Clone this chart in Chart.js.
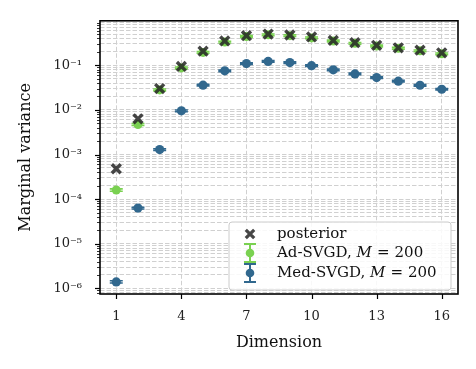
<!DOCTYPE html>
<html>
<head>
<meta charset="utf-8">
<script src="https://cdn.jsdelivr.net/npm/chart.js@4.4.1/dist/chart.umd.min.js"></script>
<style>
  body { margin: 0; background: #fff; }
  #wrap { width: 476px; height: 369px; }
</style>
</head>
<body>
<div id="wrap"><canvas id="myChart"></canvas></div>
<script>
/* global Chart */

// data
const dims = [1, 2, 3, 4, 5, 6, 7, 8, 9, 10, 11, 12, 13, 14, 15, 16];
const posterior = [4.8e-4, 6.3e-3, 0.030, 0.094, 0.207, 0.35, 0.46, 0.50, 0.476, 0.43, 0.36, 0.32, 0.28, 0.245, 0.218, 0.19];
const adSvgd = [1.6e-4, 4.7e-3, 0.028, 0.087, 0.194, 0.33, 0.44, 0.48, 0.46, 0.41, 0.35, 0.31, 0.27, 0.24, 0.21, 0.18];
const adErr = [1.0e-5, 2.5e-4, 1.4e-3, 4e-3, 9e-3, 1.5e-2, 2e-2, 2.2e-2, 2.1e-2, 1.9e-2, 1.6e-2, 1.4e-2, 1.2e-2, 1.1e-2, 1e-2, 8e-3];
const medSvgd = [1.4e-6, 6.3e-5, 1.29e-3, 9.5e-3, 0.0357, 0.075, 0.109, 0.122, 0.115, 0.098, 0.079, 0.064, 0.053, 0.044, 0.0356, 0.029];
const medErr = [8e-8, 3e-6, 6e-5, 4e-4, 1.5e-3, 3e-3, 4.5e-3, 5e-3, 4.8e-3, 4e-3, 3.3e-3, 2.7e-3, 2.2e-3, 1.8e-3, 1.5e-3, 1.2e-3];

const xTickValues = [1, 4, 7, 10, 13, 16];
const yTickValues = [1e-6, 1e-5, 1e-4, 1e-3, 1e-2, 1e-1];
const yTickLabels = ['10\u207B\u2076', '10\u207B\u2075', '10\u207B\u2074', '10\u207B\u00B3', '10\u207B\u00B2', '10\u207B\u00B9'];

const GREEN = '#7ad151';
const BLUE = '#31688e';
const DARK = 'rgba(38,38,38,0.85)';
const FONT = '"DejaVu Serif", serif';

function pts(vals) {
  return dims.map((d, i) => ({ x: d, y: vals[i] }));
}

// frame + tick marks (major/minor lengths like matplotlib)
const framePlugin = {
  id: 'frame',
  afterDraw(chart) {
    const { ctx, chartArea: a, scales: { x, y } } = chart;
    ctx.save();
    ctx.strokeStyle = '#000';
    y.ticks.forEach(t => {
      const py = Math.round(y.getPixelForValue(t.value)) + 0.5;
      const len = t.major ? 5 : 3;
      ctx.lineWidth = t.major ? 1.2 : 0.8;
      ctx.beginPath();
      ctx.moveTo(a.left - len, py);
      ctx.lineTo(a.left, py);
      ctx.stroke();
    });
    ctx.lineWidth = 1.2;
    x.ticks.forEach(t => {
      const px = Math.round(x.getPixelForValue(t.value)) + 0.5;
      ctx.beginPath();
      ctx.moveTo(px, a.bottom);
      ctx.lineTo(px, a.bottom + 5);
      ctx.stroke();
    });
    ctx.lineWidth = 1.6;
    ctx.strokeRect(a.left, a.top, a.right - a.left, a.bottom - a.top);
    ctx.restore();
  }
};

// error bars with caps, drawn under the markers
const errorPlugin = {
  id: 'errbars',
  beforeDatasetsDraw(chart) {
    const { ctx, scales: { x, y } } = chart;
    ctx.save();
    chart.data.datasets.forEach(ds => {
      if (!ds.errors) return;
      ctx.strokeStyle = ds.backgroundColor;
      ctx.lineWidth = 1.6;
      ds.data.forEach((p, j) => {
        const px = x.getPixelForValue(p.x);
        const lo = y.getPixelForValue(p.y - ds.errors[j]);
        const hi = y.getPixelForValue(p.y + ds.errors[j]);
        ctx.beginPath();
        ctx.moveTo(px, lo); ctx.lineTo(px, hi);
        ctx.moveTo(px - 6.5, lo); ctx.lineTo(px + 6.5, lo);
        ctx.moveTo(px - 6.5, hi); ctx.lineTo(px + 6.5, hi);
        ctx.stroke();
      });
    });
    ctx.restore();
  }
};

// legend inside the axes, lower right
const legendPlugin = {
  id: 'boxLegend',
  afterDraw(chart) {
    const { ctx, chartArea: a } = chart;
    const w = 222, h = 68;
    const bx = a.right - 7 - w, by = a.bottom - 4 - h;
    ctx.save();
    ctx.beginPath();
    ctx.roundRect(bx, by, w, h, 3);
    ctx.fillStyle = 'rgba(255,255,255,0.85)';
    ctx.fill();
    ctx.strokeStyle = '#cccccc';
    ctx.lineWidth = 1;
    ctx.stroke();

    const ix = bx + 21, tx = bx + 48;
    const rows = [by + 12, by + 31, by + 51];

    // posterior: X marker
    ctx.strokeStyle = DARK;
    ctx.lineWidth = 3.2;
    ctx.beginPath();
    ctx.moveTo(ix - 4.2, rows[0] - 4.2); ctx.lineTo(ix + 4.2, rows[0] + 4.2);
    ctx.moveTo(ix + 4.2, rows[0] - 4.2); ctx.lineTo(ix - 4.2, rows[0] + 4.2);
    ctx.stroke();

    // errorbar icons
    [[GREEN, rows[1]], [BLUE, rows[2]]].forEach(([c, cy]) => {
      ctx.strokeStyle = c;
      ctx.fillStyle = c;
      ctx.lineWidth = 2;
      ctx.beginPath();
      ctx.moveTo(ix, cy - 9); ctx.lineTo(ix, cy + 9);
      ctx.moveTo(ix - 6, cy - 9); ctx.lineTo(ix + 6, cy - 9);
      ctx.moveTo(ix - 6, cy + 9); ctx.lineTo(ix + 6, cy + 9);
      ctx.stroke();
      ctx.beginPath();
      ctx.arc(ix, cy, 4.3, 0, Math.PI * 2);
      ctx.fill();
    });

    const sz = 15;
    ctx.fillStyle = '#111';
    ctx.textBaseline = 'middle';
    ctx.font = sz + 'px ' + FONT;
    ctx.fillText('posterior', tx, rows[0]);
    [['Ad-SVGD, ', rows[1]], ['Med-SVGD, ', rows[2]]].forEach(([s, cy]) => {
      ctx.font = sz + 'px ' + FONT;
      ctx.fillText(s, tx, cy);
      let cx = tx + ctx.measureText(s).width;
      ctx.font = 'italic ' + sz + 'px ' + FONT;
      ctx.fillText('M', cx, cy);
      cx += ctx.measureText('M').width + 5;
      ctx.font = sz + 'px ' + FONT;
      ctx.fillText('=', cx, cy);
      cx += ctx.measureText('=').width + 5;
      ctx.fillText('200', cx, cy);
    });
    ctx.restore();
  }
};

const gridColor = '#d0d0d0';

const chart = new Chart(document.getElementById('myChart').getContext('2d'), {
  type: 'scatter',
  data: {
    datasets: [
      {
        label: 'posterior',
        data: pts(posterior),
        pointStyle: 'crossRot',
        pointRadius: 6.3,
        pointBorderWidth: 3.4,
        borderColor: DARK,
        backgroundColor: DARK
      },
      {
        label: 'Ad-SVGD, M = 200',
        data: pts(adSvgd),
        errors: adErr,
        pointStyle: 'circle',
        pointRadius: 4.5,
        pointBorderWidth: 0,
        borderColor: GREEN,
        backgroundColor: GREEN
      },
      {
        label: 'Med-SVGD, M = 200',
        data: pts(medSvgd),
        errors: medErr,
        pointStyle: 'circle',
        pointRadius: 4.6,
        pointBorderWidth: 0,
        borderColor: BLUE,
        backgroundColor: BLUE
      }
    ]
  },
  options: {
    responsive: true,
    maintainAspectRatio: false,
    animation: false,
    layout: { padding: { left: 0, top: 17, right: 18, bottom: 0 } },
    plugins: {
      legend: { display: false },
      tooltip: { enabled: false }
    },
    scales: {
      x: {
        type: 'linear',
        min: 0.25,
        max: 16.75,
        afterBuildTicks: s => { s.ticks = xTickValues.map(v => ({ value: v })); },
        afterFit: s => { s.height = 75; },
        grid: { color: gridColor, lineWidth: 1, tickLength: 5, tickColor: 'rgba(0,0,0,0)' },
        border: { display: false, dash: [4.5, 2] },
        ticks: { font: { family: FONT, size: 13 }, color: '#222', padding: 10, maxRotation: 0, autoSkip: false },
        title: { display: true, text: 'Dimension', font: { family: FONT, size: 16 }, color: '#111', padding: { top: 0, bottom: 17 } }
      },
      y: {
        type: 'logarithmic',
        min: 7.5e-7,
        max: 0.99,
        afterBuildTicks: s => {
          const t = [];
          yTickValues.concat([1e-7]).forEach(dec => {
            for (let m = 1; m <= 9; m++) {
              const v = m * dec;
              if (v >= s.min && v <= s.max) t.push({ value: v, major: m === 1 });
            }
          });
          s.ticks = t.sort((p, q) => p.value - q.value);
        },
        afterFit: s => { s.width = 100; },
        grid: { color: gridColor, lineWidth: 1, tickLength: 5, tickColor: 'rgba(0,0,0,0)' },
        border: { display: false, dash: [4.5, 2] },
        ticks: {
          font: { family: FONT, size: 13 },
          color: '#222',
          padding: 13,
          autoSkip: false,
          callback: v => {
            const i = yTickValues.findIndex(t => Math.abs(t - v) / t < 1e-6);
            return i >= 0 ? yTickLabels[i] : '';
          }
        },
        title: { display: true, text: 'Marginal variance', font: { family: FONT, size: 16 }, color: '#111', padding: { top: 16, bottom: 0 } }
      }
    }
  },
  plugins: [errorPlugin, framePlugin, legendPlugin]
});
</script>
</body>
</html>
